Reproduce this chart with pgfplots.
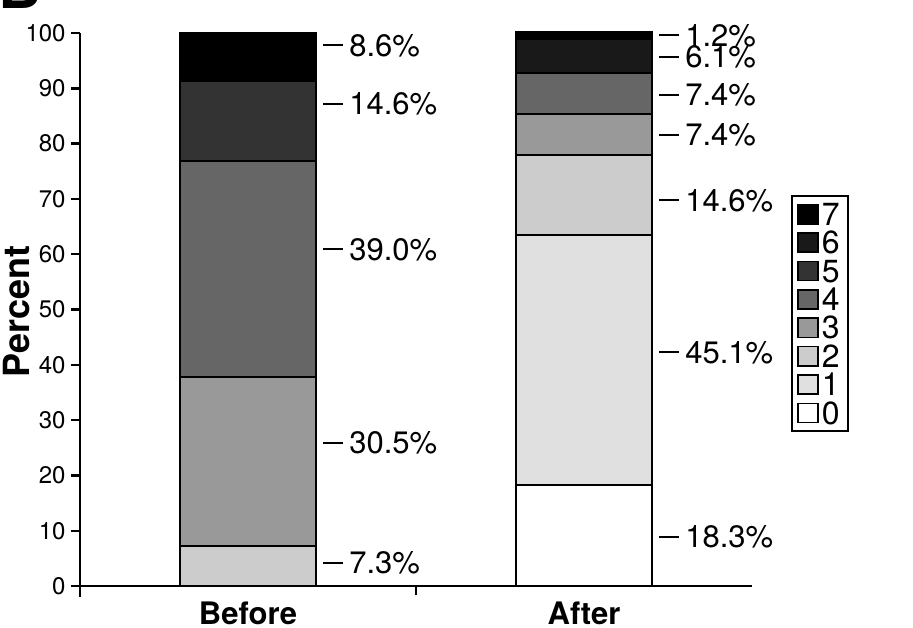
\documentclass[border=0pt]{standalone}
\usepackage{pgfplots}
\pgfplotsset{compat=1.18}
\usepackage{fontspec}
\setmainfont{TeX Gyre Heros}

\definecolor{g7}{gray}{0}
\definecolor{g6}{gray}{0.1}
\definecolor{g5}{gray}{0.2}
\definecolor{g4}{gray}{0.4}
\definecolor{g3}{gray}{0.6}
\definecolor{g2}{gray}{0.8}
\definecolor{g1}{gray}{0.88}
\definecolor{g0}{gray}{1}

\begin{document}
\begin{tikzpicture}[
  pct/.style={anchor=west, inner sep=0pt, font=\fontsize{15.5}{15.5}\selectfont,
    text height=11pt, text depth=0pt}]
\begin{axis}[
  scale only axis, width=336pt, height=276.5pt,
  clip=false,
  ybar stacked, bar width=68pt,
  xmin=-0.5, xmax=1.5, ymin=0, ymax=100,
  axis lines*=left,
  axis line style={line width=1.2pt},
  every tick/.style={black, line width=1.2pt},
  tick align=outside,
  major tick length=4.5pt,
  ytick={0,10,...,100},
  yticklabel style={font=\fontsize{12}{12}\selectfont, inner sep=2.5pt},
  /pgf/number format/assume math mode=true,
  xtick={0.5}, xticklabels={\phantom{0}},
  extra x ticks={0,1},
  extra x tick labels={Before,After},
  extra x tick style={major tick length=0pt,
    tick label style={font=\bfseries\fontsize{15.5}{15.5}\selectfont, inner sep=0pt, yshift=-7.5pt}},
  ylabel={Percent},
  ylabel style={at={(axis cs:-0.729,49.7)}, anchor=north, rotate=0, inner sep=0pt,
    font=\bfseries\fontsize{18}{18}\selectfont},
  reverse legend,
  legend image code/.code={\draw[#1, line width=0.8pt] (0pt,-4.8pt) rectangle (10pt,4.8pt);},
  legend style={at={(rel axis cs:1.058,0.707)}, anchor=north west,
    draw=black, line width=1pt, inner xsep=2.5pt, inner ysep=2pt,
    font=\fontsize{16}{16}\selectfont, row sep=0pt,
    nodes={inner sep=1.6pt, text height=11pt, text depth=0pt}},
  legend cell align=left,
  every axis plot/.append style={draw=black, line width=1pt},
]
\addplot[fill=g0] coordinates {(0,0) (1,18.3)};
\addplot[fill=g1] coordinates {(0,0) (1,45.1)};
\addplot[fill=g2] coordinates {(0,7.3) (1,14.6)};
\addplot[fill=g3] coordinates {(0,30.5) (1,7.4)};
\addplot[fill=g4] coordinates {(0,39.0) (1,7.4)};
\addplot[fill=g5] coordinates {(0,14.6) (1,0)};
\addplot[fill=g6] coordinates {(0,0) (1,6.1)};
\addplot[fill=g7] coordinates {(0,8.6) (1,1.2)};
\legend{0,1,2,3,4,5,6,7}

% labels next to the bars
\node[pct] at (axis cs:0.223,97.8) {\rule[5pt]{10pt}{1pt}\hspace{3pt}8.6\%};
\node[pct] at (axis cs:0.223,87.2) {\rule[5pt]{10pt}{1pt}\hspace{3pt}14.6\%};
\node[pct] at (axis cs:0.223,60.9) {\rule[5pt]{10pt}{1pt}\hspace{3pt}39.0\%};
\node[pct] at (axis cs:0.223,25.9) {\rule[5pt]{10pt}{1pt}\hspace{3pt}30.5\%};
\node[pct] at (axis cs:0.223,4.2) {\rule[5pt]{10pt}{1pt}\hspace{3pt}7.3\%};
\node[pct] at (axis cs:1.223,99.6) {\rule[5pt]{10pt}{1pt}\hspace{3pt}1.2\%};
\node[pct] at (axis cs:1.223,95.7) {\rule[5pt]{10pt}{1pt}\hspace{3pt}6.1\%};
\node[pct] at (axis cs:1.223,88.8) {\rule[5pt]{10pt}{1pt}\hspace{3pt}7.4\%};
\node[pct] at (axis cs:1.223,81.6) {\rule[5pt]{10pt}{1pt}\hspace{3pt}7.4\%};
\node[pct] at (axis cs:1.223,69.8) {\rule[5pt]{10pt}{1pt}\hspace{3pt}14.6\%};
\node[pct] at (axis cs:1.223,42.3) {\rule[5pt]{10pt}{1pt}\hspace{3pt}45.1\%};
\node[pct] at (axis cs:1.223,8.9) {\rule[5pt]{10pt}{1pt}\hspace{3pt}18.3\%};

% y axis runs a little below zero
\draw[line width=1.2pt] (axis cs:-0.5,0) -- (axis cs:-0.5,-2);

% panel letter, cut at the top as in the original
\node[anchor=base west, inner sep=0pt, font=\bfseries\fontsize{30}{30}\selectfont]
  at (axis cs:-0.745,104.5) {B};

\coordinate (bbl) at (axis cs:-0.738,-7.41);
\coordinate (btr) at (axis cs:1.979,105.97);
\end{axis}
\pgfresetboundingbox
\useasboundingbox (bbl) rectangle (btr);
\end{tikzpicture}
\end{document}
